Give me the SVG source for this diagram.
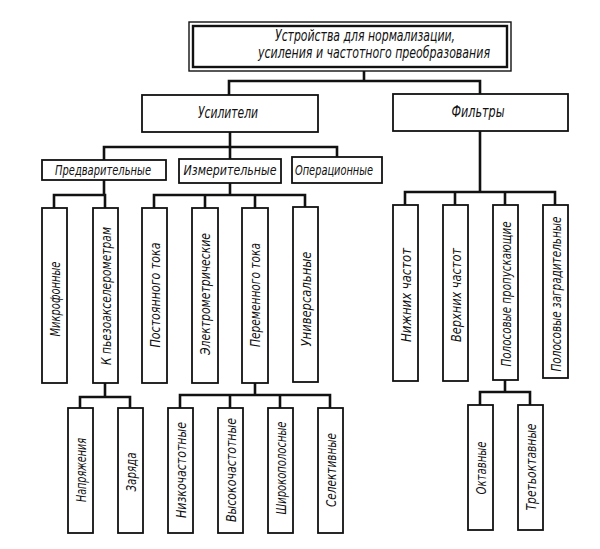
<svg xmlns="http://www.w3.org/2000/svg" width="600" height="549" viewBox="0 0 600 549">
<style>
  .b{fill:#fff;stroke:#111;stroke-width:1.8}
  .c{fill:none;stroke:#111;stroke-width:2.6;stroke-linecap:square}
  text{font-family:"DejaVu Sans Condensed","Liberation Sans",sans-serif;font-style:italic;fill:#111;font-size:14px;text-anchor:middle}
  .h{font-size:15px}
</style>
<rect width="600" height="549" fill="#fff"/>
<g id="connectors">
  <path class="c" d="M364,71V81M229,81H480M229,81V95M480,81V94"/>
  <path class="c" d="M230,132V147M104,147H337M104,147V160M230,147V159M337,147V157"/>
  <path class="c" d="M104,180V195M54,195H105M54,195V208M105,195V208"/>
  <path class="c" d="M230,183V195M154,195H305M154,195V208M205,195V208M255,195V208M305,195V207"/>
  <path class="c" d="M480,131V192M405,192H555M405,192V205M455,192V205M505,192V205M555,192V205"/>
  <path class="c" d="M105,383V397M80,397H130M80,397V408M130,397V408"/>
  <path class="c" d="M255,383V395M180,395H330M180,395V408M230,395V408M280,395V408M330,395V408"/>
  <path class="c" d="M505,380V392M480,392H530M480,392V405M530,392V405"/>
</g>
<g id="root">
  <rect x="189" y="22" width="322" height="49" fill="#fff" stroke="#111" stroke-width="1.4"/>
  <rect x="193" y="26" width="314" height="41" fill="none" stroke="#111" stroke-width="2.4"/>
  <text class="h" x="365" y="41" textLength="180" lengthAdjust="spacingAndGlyphs">Устройства для нормализации,</text>
  <text class="h" x="374" y="58" textLength="232" lengthAdjust="spacingAndGlyphs">усиления и частотного преобразования</text>
</g>
<g id="usiliteli"><rect class="b" x="142" y="95" width="176" height="37"/><text class="h" x="228" y="118" textLength="60" lengthAdjust="spacingAndGlyphs">Усилители</text></g>
<g id="filtry"><rect class="b" x="393" y="94" width="175" height="37"/><text class="h" x="478" y="117" textLength="53" lengthAdjust="spacingAndGlyphs">Фильтры</text></g>
<g id="predv"><rect class="b" x="42" y="160" width="124" height="20"/><text x="103" y="175" textLength="96" lengthAdjust="spacingAndGlyphs">Предварительные</text></g>
<g id="izmer"><rect class="b" x="179" y="159" width="102" height="24"/><text x="230" y="175" textLength="93" lengthAdjust="spacingAndGlyphs">Измерительные</text></g>
<g id="oper"><rect class="b" x="292" y="157" width="90" height="26"/><text x="334" y="175" textLength="78" lengthAdjust="spacingAndGlyphs">Операционные</text></g>

<g id="mikro"><rect class="b" x="42" y="208" width="25" height="175"/><text transform="translate(59.5,299) rotate(-90)" textLength="75" lengthAdjust="spacingAndGlyphs">Микрофонные</text></g>
<g id="piezo"><rect class="b" x="93" y="208" width="25" height="175"/><text transform="translate(110.5,296) rotate(-90)" textLength="138" lengthAdjust="spacingAndGlyphs">К пьезоакселерометрам</text></g>
<g id="post"><rect class="b" x="142" y="208" width="25" height="175"/><text transform="translate(159.5,295) rotate(-90)" textLength="105" lengthAdjust="spacingAndGlyphs">Постоянного тока</text></g>
<g id="elektro"><rect class="b" x="192" y="208" width="26" height="175"/><text transform="translate(210,294) rotate(-90)" textLength="122" lengthAdjust="spacingAndGlyphs">Электрометрические</text></g>
<g id="perem"><rect class="b" x="242" y="208" width="26" height="175"/><text transform="translate(260,295) rotate(-90)" textLength="104" lengthAdjust="spacingAndGlyphs">Переменного тока</text></g>
<g id="univ"><rect class="b" x="293" y="207" width="25" height="175"/><text transform="translate(310.5,299) rotate(-90)" textLength="95" lengthAdjust="spacingAndGlyphs">Универсальные</text></g>

<g id="nizh"><rect class="b" x="393" y="205" width="25" height="176"/><text transform="translate(410.5,295) rotate(-90)" textLength="94" lengthAdjust="spacingAndGlyphs">Нижних частот</text></g>
<g id="verh"><rect class="b" x="443" y="205" width="25" height="176"/><text transform="translate(460.5,295) rotate(-90)" textLength="94" lengthAdjust="spacingAndGlyphs">Верхних частот</text></g>
<g id="polprop"><rect class="b" x="493" y="205" width="25" height="175"/><text transform="translate(510.5,294) rotate(-90)" textLength="145" lengthAdjust="spacingAndGlyphs">Полосовые пропускающие</text></g>
<g id="polzag"><rect class="b" x="543" y="205" width="25" height="173"/><text transform="translate(560.5,294) rotate(-90)" textLength="155" lengthAdjust="spacingAndGlyphs">Полосовые заградительные</text></g>

<g id="napr"><rect class="b" x="68" y="408" width="25" height="125"/><text transform="translate(85.5,470) rotate(-90)" textLength="64" lengthAdjust="spacingAndGlyphs">Напряжения</text></g>
<g id="zar"><rect class="b" x="118" y="408" width="25" height="125"/><text transform="translate(135.5,472) rotate(-90)" textLength="39" lengthAdjust="spacingAndGlyphs">Заряда</text></g>

<g id="nizko"><rect class="b" x="168" y="408" width="25" height="125"/><text transform="translate(185.5,470) rotate(-90)" textLength="96" lengthAdjust="spacingAndGlyphs">Низкочастотные</text></g>
<g id="vysoko"><rect class="b" x="218" y="408" width="25" height="125"/><text transform="translate(235.5,470) rotate(-90)" textLength="104" lengthAdjust="spacingAndGlyphs">Высокочастотные</text></g>
<g id="shiroko"><rect class="b" x="268" y="408" width="25" height="125"/><text transform="translate(285.5,468) rotate(-90)" textLength="93" lengthAdjust="spacingAndGlyphs">Широкополосные</text></g>
<g id="selekt"><rect class="b" x="318" y="408" width="25" height="125"/><text transform="translate(335.5,470) rotate(-90)" textLength="74" lengthAdjust="spacingAndGlyphs">Селективные</text></g>

<g id="oktav"><rect class="b" x="468" y="405" width="25" height="125"/><text transform="translate(485.5,468) rotate(-90)" textLength="53" lengthAdjust="spacingAndGlyphs">Октавные</text></g>
<g id="tretoktav"><rect class="b" x="518" y="405" width="25" height="125"/><text transform="translate(535.5,467) rotate(-90)" textLength="87" lengthAdjust="spacingAndGlyphs">Третьоктавные</text></g>
</svg>
